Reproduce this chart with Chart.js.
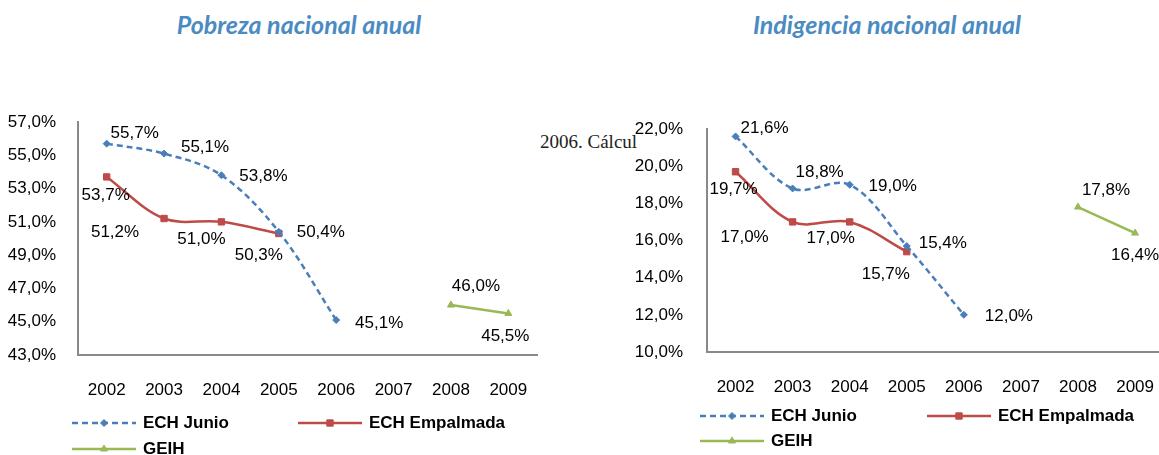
<!DOCTYPE html>
<html lang="es">
<head>
  <meta charset="UTF-8" />
  <title>Pobreza e indigencia nacional anual</title>
  <script src="https://cdn.jsdelivr.net/npm/chart.js"></script>
  <style>
    body {
      margin: 0;
      width: 1159px;
      height: 455px;
      overflow: hidden;
      position: relative;
      background: #ffffff;
    }

    .title {
      position: absolute;
      top: 9px;
      line-height: 30px;
      transform: translateX(-50%);
      white-space: nowrap;
      font-family: Lato, 'Open Sans', sans-serif;
      font-style: italic;
      font-weight: 700;
      font-size: 25px;
      color: #4a8bc2;
    }

    .note {
      position: absolute;
      left: 540px;
      top: 131px;
      font-family: 'Liberation Serif', serif;
      font-size: 19px;
      color: #222;
      white-space: nowrap;
    }

    canvas {
      position: absolute;
      top: 0;
    }
  </style>
</head>
<body>
  <div class="title" style="left: 299px;">Pobreza nacional anual</div>
  <div class="title" style="left: 887px;">Indigencia nacional anual</div>
  <div class="note">2006. Cálcul</div>

  <canvas id="pobrezaChart" width="580" height="455" style="left: 0;"></canvas>
  <canvas id="indigenciaChart" width="600" height="455" style="left: 580px;"></canvas>

  <script>
    const years = ['2002', '2003', '2004', '2005', '2006', '2007', '2008', '2009'];

    // Pobreza (%)
    const pobrezaJunio = [55.7, 55.1, 53.8, 50.4, 45.1, null, null, null];
    const pobrezaEmpalmada = [53.7, 51.2, 51.0, 50.3, null, null, null, null];
    const pobrezaGeih = [null, null, null, null, null, null, 46.0, 45.5];

    // Indigencia (%)
    const indigenciaJunio = [21.6, 18.8, 19.0, 15.7, 12.0, null, null, null];
    const indigenciaEmpalmada = [19.7, 17.0, 17.0, 15.4, null, null, null, null];
    const indigenciaGeih = [null, null, null, null, null, null, 17.8, 16.4];

    // where each value label sits relative to its point (px)
    const offPobJunio = [[28, -10], [41, -6], [42, 1], [42, 0], [43, 3]];
    const offPobEmpalmada = [[-1, 18], [-49, 14], [-20, 17], [-20, 22]];
    const offPobGeih = [null, null, null, null, null, null, [25, -19], [-3, 23]];
    const offIndJunio = [[29, -8], [27, -16], [43, 2], [-21, 28], [45, 1]];
    const offIndEmpalmada = [[-2, 18], [-48, 15], [-19, 16], [36, -8]];
    const offIndGeih = [null, null, null, null, null, null, [28, -17], [0, 22]];

    const blue = '#4a7ebb';
    const red = '#be4b48';
    const green = '#98b954';
    const sans = "'Liberation Sans', Arial, sans-serif";
    const fontSize = 17;

    const pct = v => v.toFixed(1).replace('.', ',') + '%';

    function series(label, data, color, style, radius, dashed, offsets) {
      return {
        label: label,
        data: data,
        borderColor: color,
        backgroundColor: color,
        borderWidth: 2.5,
        borderDash: dashed ? [6, 4] : [],
        pointStyle: style,
        pointRadius: radius,
        pointBorderWidth: 1,
        pointBackgroundColor: color,
        pointBorderColor: color,
        tension: 0.35,
        labelOffsets: offsets
      };
    }

    function drawMarker(ctx, style, r, x, y) {
      ctx.beginPath();
      if (style === 'rect') {
        const s = r * Math.SQRT1_2;
        ctx.rect(x - s, y - s, 2 * s, 2 * s);
      } else if (style === 'rectRot') {
        ctx.moveTo(x - r, y);
        ctx.lineTo(x, y - r);
        ctx.lineTo(x + r, y);
        ctx.lineTo(x, y + r);
        ctx.closePath();
      } else {
        ctx.moveTo(x, y - r);
        ctx.lineTo(x + r * 0.866, y + r / 2);
        ctx.lineTo(x - r * 0.866, y + r / 2);
        ctx.closePath();
      }
      ctx.fill();
      ctx.stroke();
    }

    const pointLabels = {
      id: 'pointLabels',
      afterDatasetsDraw(chart) {
        const ctx = chart.ctx;
        ctx.save();
        ctx.font = fontSize + 'px ' + sans;
        ctx.fillStyle = '#000';
        ctx.textAlign = 'center';
        ctx.textBaseline = 'middle';
        chart.data.datasets.forEach((ds, i) => {
          chart.getDatasetMeta(i).data.forEach((pt, j) => {
            const v = ds.data[j];
            if (v == null) return;
            const off = ds.labelOffsets[j] || [0, 0];
            ctx.fillText(pct(v), pt.x + off[0], pt.y + off[1]);
          });
        });
        ctx.restore();
      }
    };

    const lineLegend = {
      id: 'lineLegend',
      afterDraw(chart, args, opts) {
        const ctx = chart.ctx;
        ctx.save();
        chart.data.datasets.forEach((ds, i) => {
          const [x, y] = opts.slots[i];
          ctx.strokeStyle = ds.borderColor;
          ctx.fillStyle = ds.borderColor;
          ctx.lineWidth = 2.5;
          ctx.setLineDash(ds.borderDash);
          ctx.beginPath();
          ctx.moveTo(x, y);
          ctx.lineTo(x + 64, y);
          ctx.stroke();
          ctx.setLineDash([]);
          ctx.lineWidth = 1;
          drawMarker(ctx, ds.pointStyle, ds.pointRadius, x + 32, y);
          ctx.fillStyle = '#000';
          ctx.font = 'bold ' + fontSize + 'px ' + sans;
          ctx.textAlign = 'left';
          ctx.textBaseline = 'middle';
          ctx.fillText(ds.label, x + 71, y);
        });
        ctx.restore();
      }
    };

    function makeChart(id, cfg) {
      const axisBorder = { color: '#898989', width: 2 };
      return new Chart(document.getElementById(id), {
        type: 'line',
        data: { labels: years, datasets: cfg.datasets },
        options: {
          responsive: false,
          animation: false,
          layout: { padding: { top: cfg.top, right: cfg.right, bottom: cfg.bottom, left: 0 } },
          plugins: {
            legend: { display: false },
            tooltip: { enabled: false },
            lineLegend: { slots: cfg.slots }
          },
          scales: {
            x: {
              offset: true,
              grid: { display: false, drawTicks: false },
              border: axisBorder,
              ticks: {
                color: '#000',
                font: { family: sans, size: fontSize },
                padding: 25,
                maxRotation: 0,
                autoSkip: false
              },
              afterFit: s => { s.height = 60; }
            },
            y: {
              min: cfg.min,
              max: cfg.max,
              grid: { display: false, drawTicks: false },
              border: axisBorder,
              ticks: {
                stepSize: 2,
                color: '#000',
                font: { family: sans, size: fontSize },
                padding: cfg.tickPad,
                callback: v => pct(v)
              },
              afterFit: s => { s.width = cfg.axisWidth; }
            }
          }
        },
        plugins: [pointLabels, lineLegend]
      });
    }

    makeChart('pobrezaChart', {
      datasets: [
        series('ECH Junio', pobrezaJunio, blue, 'rectRot', 3.5, true, offPobJunio),
        series('ECH Empalmada', pobrezaEmpalmada, red, 'rect', 4.5, false, offPobEmpalmada),
        series('GEIH', pobrezaGeih, green, 'triangle', 4, false, offPobGeih)
      ],
      min: 43, max: 57,
      top: 122, right: 43, bottom: 40,
      axisWidth: 78, tickPad: 22,
      slots: [[72, 423], [298, 423], [72, 449]]
    });

    makeChart('indigenciaChart', {
      datasets: [
        series('ECH Junio', indigenciaJunio, blue, 'rectRot', 3.5, true, offIndJunio),
        series('ECH Empalmada', indigenciaEmpalmada, red, 'rect', 4.5, false, offIndEmpalmada),
        series('GEIH', indigenciaGeih, green, 'triangle', 4, false, offIndGeih)
      ],
      min: 10, max: 22,
      top: 129, right: 16, bottom: 43,
      axisWidth: 127, tickPad: 24,
      slots: [[120, 416], [347, 416], [120, 441]]
    });
  </script>
</body>
</html>
